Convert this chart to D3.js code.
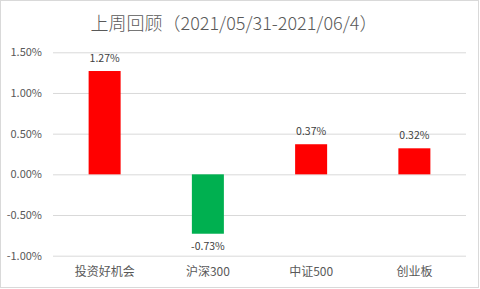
<!DOCTYPE html>
<html><head><meta charset="utf-8">
<script src="https://cdn.jsdelivr.net/npm/d3@7"></script>
<style>body{margin:0;background:#fff}svg{display:block}</style>
</head><body>
<script>
const title = "上周回顾（2021/05/31-2021/06/4）";
const categories = ["投资好机会","沪深300","中证500","创业板"];
const values = [1.27, -0.73, 0.37, 0.32];
const ticks = [-1.0, -0.5, 0, 0.5, 1.0, 1.5];
const W = 480, H = 289;
const font = "'Noto Sans CJK SC','Microsoft YaHei',sans-serif";
const svg = d3.select("body").append("svg").attr("width", W).attr("height", H);
svg.append("rect").attr("x",0.5).attr("y",0.5).attr("width",478).attr("height",287)
  .attr("fill","#fff").attr("stroke","#d9d9d9");
const x = d3.scaleBand().domain(categories).range([53,466]).paddingInner(0.69).paddingOuter(0.345);
const y = d3.scaleLinear().domain([-1.0,1.5]).range([255.7,52.3]);
const yAxis = d3.axisLeft(y).tickValues(ticks).tickSize(-(466-53)).tickFormat(d=>d.toFixed(2)+"%");
const ga = svg.append("g").attr("transform","translate(53,0)").call(yAxis);
ga.select(".domain").remove();
ga.selectAll(".tick line").attr("stroke","#d9d9d9");
ga.selectAll(".tick text").attr("fill","#595959").attr("font-size",11).attr("font-family",font).attr("x",-11);
svg.selectAll(".bar").data(values).join("rect")
  .attr("x",(d,i)=>x(categories[i])).attr("width",x.bandwidth())
  .attr("y",d=>y(Math.max(0,d))).attr("height",d=>Math.abs(y(d)-y(0)))
  .attr("fill",d=>d>=0?"#ff0000":"#00b050");
svg.selectAll(".lbl").data(values).join("text")
  .attr("x",(d,i)=>x(categories[i])+x.bandwidth()/2)
  .attr("y",d=>d>=0?y(d)-9:y(d)+16)
  .attr("text-anchor","middle").attr("font-size",10.5).attr("font-family",font).attr("fill","#404040")
  .text(d=>d.toFixed(2)+"%");
const gx = svg.append("g").attr("transform","translate(0,255.7)").call(d3.axisBottom(x).tickSize(0));
gx.select(".domain").remove();
gx.selectAll(".tick text").attr("fill","#595959").attr("font-size",12).attr("font-family",font).attr("dy",0).attr("y",20.5);
svg.append("text").attr("x",234).attr("y",30).attr("text-anchor","middle")
  .attr("font-size",18).attr("font-weight",300).attr("font-family",font).attr("fill","#595959").text(title);
</script>
</body></html>
